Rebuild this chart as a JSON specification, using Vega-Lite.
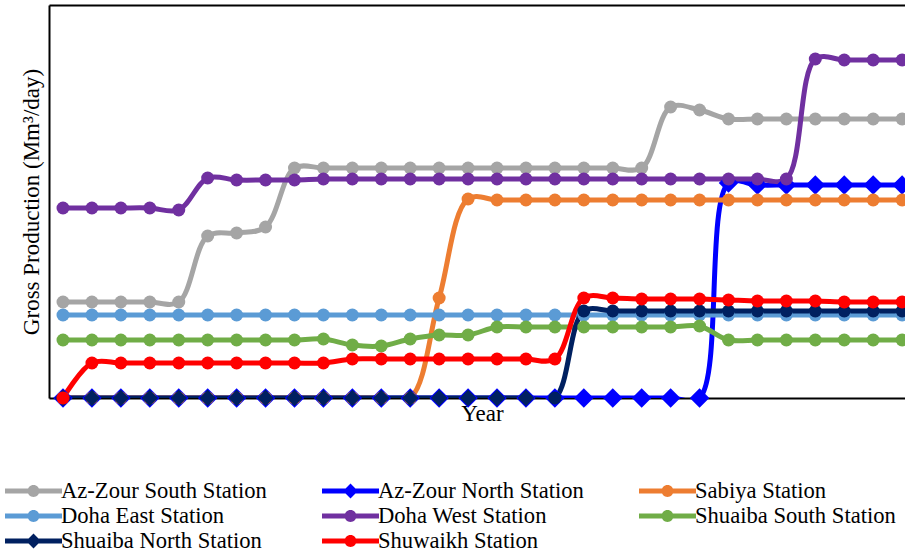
{
  "$schema": "https://vega.github.io/schema/vega-lite/v6.json",
  "width": 856,
  "height": 393,
  "autosize": "none",
  "padding": {"left": 49, "top": 5, "right": 0, "bottom": 156},
  "background": "white",
  "config": {
    "view": {"stroke": null},
    "font": "Liberation Serif"
  },
  "data": {
    "values": [
      {"year": 1990, "Az-Zour South Station": 0.384, "Az-Zour North Station": 0, "Sabiya Station": 0, "Doha East Station": 0.332, "Doha West Station": 0.76, "Shuaiba South Station": 0.232, "Shuaiba North Station": 0, "Shuwaikh Station": 0},
      {"year": 1991, "Az-Zour South Station": 0.384, "Az-Zour North Station": 0, "Sabiya Station": 0, "Doha East Station": 0.332, "Doha West Station": 0.76, "Shuaiba South Station": 0.232, "Shuaiba North Station": 0, "Shuwaikh Station": 0.14},
      {"year": 1992, "Az-Zour South Station": 0.384, "Az-Zour North Station": 0, "Sabiya Station": 0, "Doha East Station": 0.332, "Doha West Station": 0.76, "Shuaiba South Station": 0.232, "Shuaiba North Station": 0, "Shuwaikh Station": 0.14},
      {"year": 1993, "Az-Zour South Station": 0.384, "Az-Zour North Station": 0, "Sabiya Station": 0, "Doha East Station": 0.332, "Doha West Station": 0.76, "Shuaiba South Station": 0.232, "Shuaiba North Station": 0, "Shuwaikh Station": 0.14},
      {"year": 1994, "Az-Zour South Station": 0.384, "Az-Zour North Station": 0, "Sabiya Station": 0, "Doha East Station": 0.332, "Doha West Station": 0.752, "Shuaiba South Station": 0.232, "Shuaiba North Station": 0, "Shuwaikh Station": 0.14},
      {"year": 1995, "Az-Zour South Station": 0.648, "Az-Zour North Station": 0, "Sabiya Station": 0, "Doha East Station": 0.332, "Doha West Station": 0.88, "Shuaiba South Station": 0.232, "Shuaiba North Station": 0, "Shuwaikh Station": 0.14},
      {"year": 1996, "Az-Zour South Station": 0.66, "Az-Zour North Station": 0, "Sabiya Station": 0, "Doha East Station": 0.332, "Doha West Station": 0.872, "Shuaiba South Station": 0.232, "Shuaiba North Station": 0, "Shuwaikh Station": 0.14},
      {"year": 1997, "Az-Zour South Station": 0.684, "Az-Zour North Station": 0, "Sabiya Station": 0, "Doha East Station": 0.332, "Doha West Station": 0.872, "Shuaiba South Station": 0.232, "Shuaiba North Station": 0, "Shuwaikh Station": 0.14},
      {"year": 1998, "Az-Zour South Station": 0.92, "Az-Zour North Station": 0, "Sabiya Station": 0, "Doha East Station": 0.332, "Doha West Station": 0.872, "Shuaiba South Station": 0.232, "Shuaiba North Station": 0, "Shuwaikh Station": 0.14},
      {"year": 1999, "Az-Zour South Station": 0.92, "Az-Zour North Station": 0, "Sabiya Station": 0, "Doha East Station": 0.332, "Doha West Station": 0.876, "Shuaiba South Station": 0.236, "Shuaiba North Station": 0, "Shuwaikh Station": 0.14},
      {"year": 2000, "Az-Zour South Station": 0.92, "Az-Zour North Station": 0, "Sabiya Station": 0, "Doha East Station": 0.332, "Doha West Station": 0.876, "Shuaiba South Station": 0.212, "Shuaiba North Station": 0, "Shuwaikh Station": 0.156},
      {"year": 2001, "Az-Zour South Station": 0.92, "Az-Zour North Station": 0, "Sabiya Station": 0, "Doha East Station": 0.332, "Doha West Station": 0.876, "Shuaiba South Station": 0.208, "Shuaiba North Station": 0, "Shuwaikh Station": 0.156},
      {"year": 2002, "Az-Zour South Station": 0.92, "Az-Zour North Station": 0, "Sabiya Station": 0, "Doha East Station": 0.332, "Doha West Station": 0.876, "Shuaiba South Station": 0.236, "Shuaiba North Station": 0, "Shuwaikh Station": 0.156},
      {"year": 2003, "Az-Zour South Station": 0.92, "Az-Zour North Station": 0, "Sabiya Station": 0.4, "Doha East Station": 0.332, "Doha West Station": 0.876, "Shuaiba South Station": 0.252, "Shuaiba North Station": 0, "Shuwaikh Station": 0.156},
      {"year": 2004, "Az-Zour South Station": 0.92, "Az-Zour North Station": 0, "Sabiya Station": 0.796, "Doha East Station": 0.332, "Doha West Station": 0.876, "Shuaiba South Station": 0.252, "Shuaiba North Station": 0, "Shuwaikh Station": 0.156},
      {"year": 2005, "Az-Zour South Station": 0.92, "Az-Zour North Station": 0, "Sabiya Station": 0.792, "Doha East Station": 0.332, "Doha West Station": 0.876, "Shuaiba South Station": 0.284, "Shuaiba North Station": 0, "Shuwaikh Station": 0.156},
      {"year": 2006, "Az-Zour South Station": 0.92, "Az-Zour North Station": 0, "Sabiya Station": 0.792, "Doha East Station": 0.332, "Doha West Station": 0.876, "Shuaiba South Station": 0.284, "Shuaiba North Station": 0, "Shuwaikh Station": 0.156},
      {"year": 2007, "Az-Zour South Station": 0.92, "Az-Zour North Station": 0, "Sabiya Station": 0.792, "Doha East Station": 0.332, "Doha West Station": 0.876, "Shuaiba South Station": 0.284, "Shuaiba North Station": 0, "Shuwaikh Station": 0.156},
      {"year": 2008, "Az-Zour South Station": 0.92, "Az-Zour North Station": 0, "Sabiya Station": 0.792, "Doha East Station": 0.332, "Doha West Station": 0.876, "Shuaiba South Station": 0.284, "Shuaiba North Station": 0.348, "Shuwaikh Station": 0.4},
      {"year": 2009, "Az-Zour South Station": 0.92, "Az-Zour North Station": 0, "Sabiya Station": 0.792, "Doha East Station": 0.332, "Doha West Station": 0.876, "Shuaiba South Station": 0.284, "Shuaiba North Station": 0.348, "Shuwaikh Station": 0.4},
      {"year": 2010, "Az-Zour South Station": 0.92, "Az-Zour North Station": 0, "Sabiya Station": 0.792, "Doha East Station": 0.332, "Doha West Station": 0.876, "Shuaiba South Station": 0.284, "Shuaiba North Station": 0.348, "Shuwaikh Station": 0.396},
      {"year": 2011, "Az-Zour South Station": 1.164, "Az-Zour North Station": 0, "Sabiya Station": 0.792, "Doha East Station": 0.332, "Doha West Station": 0.876, "Shuaiba South Station": 0.284, "Shuaiba North Station": 0.348, "Shuwaikh Station": 0.396},
      {"year": 2012, "Az-Zour South Station": 1.152, "Az-Zour North Station": 0, "Sabiya Station": 0.792, "Doha East Station": 0.332, "Doha West Station": 0.876, "Shuaiba South Station": 0.288, "Shuaiba North Station": 0.348, "Shuwaikh Station": 0.396},
      {"year": 2013, "Az-Zour South Station": 1.116, "Az-Zour North Station": 0.86, "Sabiya Station": 0.792, "Doha East Station": 0.332, "Doha West Station": 0.876, "Shuaiba South Station": 0.232, "Shuaiba North Station": 0.348, "Shuwaikh Station": 0.392},
      {"year": 2014, "Az-Zour South Station": 1.116, "Az-Zour North Station": 0.852, "Sabiya Station": 0.792, "Doha East Station": 0.332, "Doha West Station": 0.876, "Shuaiba South Station": 0.232, "Shuaiba North Station": 0.348, "Shuwaikh Station": 0.388},
      {"year": 2015, "Az-Zour South Station": 1.116, "Az-Zour North Station": 0.852, "Sabiya Station": 0.792, "Doha East Station": 0.332, "Doha West Station": 0.876, "Shuaiba South Station": 0.232, "Shuaiba North Station": 0.348, "Shuwaikh Station": 0.388},
      {"year": 2016, "Az-Zour South Station": 1.116, "Az-Zour North Station": 0.852, "Sabiya Station": 0.792, "Doha East Station": 0.332, "Doha West Station": 1.356, "Shuaiba South Station": 0.232, "Shuaiba North Station": 0.348, "Shuwaikh Station": 0.388},
      {"year": 2017, "Az-Zour South Station": 1.116, "Az-Zour North Station": 0.852, "Sabiya Station": 0.792, "Doha East Station": 0.332, "Doha West Station": 1.352, "Shuaiba South Station": 0.232, "Shuaiba North Station": 0.348, "Shuwaikh Station": 0.384},
      {"year": 2018, "Az-Zour South Station": 1.116, "Az-Zour North Station": 0.852, "Sabiya Station": 0.792, "Doha East Station": 0.332, "Doha West Station": 1.352, "Shuaiba South Station": 0.232, "Shuaiba North Station": 0.348, "Shuwaikh Station": 0.384},
      {"year": 2019, "Az-Zour South Station": 1.116, "Az-Zour North Station": 0.852, "Sabiya Station": 0.792, "Doha East Station": 0.332, "Doha West Station": 1.352, "Shuaiba South Station": 0.232, "Shuaiba North Station": 0.348, "Shuwaikh Station": 0.384}
    ]
  },
  "transform": [
    {"fold": ["Az-Zour South Station", "Az-Zour North Station", "Sabiya Station", "Doha East Station", "Doha West Station", "Shuaiba South Station", "Shuaiba North Station", "Shuwaikh Station"], "as": ["station", "production"]}
  ],
  "encoding": {
    "y": {
      "field": "production", "type": "quantitative",
      "scale": {"domain": [0, 1.572], "nice": false, "zero": true},
      "axis": {"title": "Gross Production (Mm³/day)", "labels": false, "ticks": false, "grid": false, "domainColor": "black", "domainWidth": 2, "titleFont": "Liberation Serif", "titleFontSize": 23, "titleFontWeight": "normal", "titleColor": "black", "titlePadding": 6}
    },
    "color": {
      "field": "station", "type": "nominal",
      "scale": {
        "domain": ["Az-Zour South Station", "Az-Zour North Station", "Sabiya Station", "Doha East Station", "Doha West Station", "Shuaiba South Station", "Shuaiba North Station", "Shuwaikh Station"],
        "range": ["#A5A5A5", "#0000FF", "#ED7D31", "#5B9BD5", "#7030A0", "#70AD47", "#002060", "#FF0000"]
      },
      "legend": {
        "title": null, "orient": "none", "legendX": -44, "legendY": 474,
        "columns": 3, "direction": "horizontal", "columnPadding": 55, "rowPadding": 1, "gridAlign": "all",
        "symbolSize": 3249, "clipHeight": 24,
        "symbolType": "M-1,-0.088H1V0.088H-1ZM-0.21,0A0.21,0.21 0 1,1 0.21,0A0.21,0.21 0 1,1 -0.21,0Z",
        "labelFont": "Liberation Serif", "labelFontSize": 22.6, "labelColor": "black", "labelOffset": -1, "labelLimit": 0,
        "encode": {
          "symbols": {
            "update": {
              "fill": {"scale": "color", "field": "value"},
              "stroke": {"value": "transparent"},
              "strokeWidth": {"value": 0},
              "opacity": {"value": 1},
              "shape": {"signal": "datum.value === 'Az-Zour North Station' || datum.value === 'Shuaiba North Station' ? 'M-1,-0.088H1V0.088H-1ZM-0.26,0L0,-0.26L0.26,0L0,0.26Z' : 'M-1,-0.088H1V0.088H-1ZM-0.21,0A0.21,0.21 0 1,1 0.21,0A0.21,0.21 0 1,1 -0.21,0Z'"}
            }
          }
        }
      }
    }
  },
  "layer": [
    {
      "mark": {"type": "line", "interpolate": "catmull-rom", "strokeWidth": 5, "clip": true},
      "encoding": {
        "x": {
          "field": "year", "type": "quantitative",
          "scale": {"domain": [1989.516, 2019.1], "nice": false, "zero": false},
          "axis": {"orient": "bottom", "title": "Year", "labels": false, "ticks": false, "grid": false, "domainColor": "black", "domainWidth": 2, "titleFont": "Liberation Serif", "titleFontSize": 23, "titleFontWeight": "normal", "titleColor": "black", "titlePadding": 4, "titleX": 433}
        }
      }
    },
    {
      "mark": {"type": "point", "filled": true, "opacity": 1, "strokeWidth": 0},
      "encoding": {
        "x": {
          "field": "year", "type": "quantitative",
          "axis": {"orient": "top", "title": null, "labels": false, "ticks": false, "grid": false, "domainColor": "black", "domainWidth": 2}
        },
        "shape": {
          "condition": {"test": "datum.station === 'Az-Zour North Station' || (datum.station === 'Shuaiba North Station' && datum.year < 2007)", "value": "diamond"},
          "value": "circle"
        },
        "size": {
          "condition": [
            {"test": "datum.station === 'Az-Zour North Station'", "value": 380},
            {"test": "datum.station === 'Shuaiba North Station' && datum.year < 2007", "value": 270}
          ],
          "value": 169
        }
      }
    }
  ],
  "resolve": {"axis": {"x": "independent"}}
}
